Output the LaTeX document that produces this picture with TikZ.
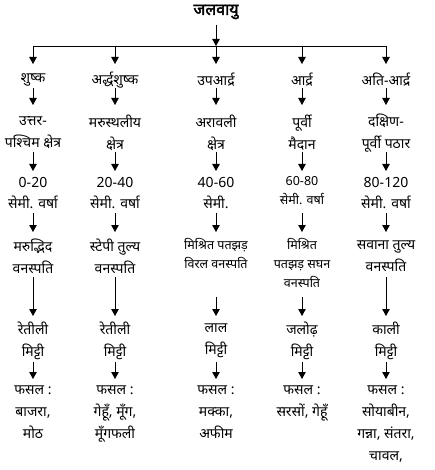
\documentclass[tikz,border=0pt]{standalone}
\usepackage{fontspec}
\setmainfont{Noto Sans}[Script=Devanagari]
\newfontfamily\titlefont[Script=Devanagari,FakeBold=2.5]{Noto Sans}
\usetikzlibrary{arrows.meta}
\begin{document}
\begin{tikzpicture}[x=1pt,y=-1pt,
  txt/.style={align=center,inner sep=1pt,font=\fontsize{14}{21.7}\selectfont},
  sml/.style={align=center,inner sep=1pt,font=\fontsize{12.5}{19}\selectfont},
  arr/.style={-{Triangle[length=7pt,width=7.5pt]},line width=0.9pt},
  ln/.style={line width=0.9pt}]
\useasboundingbox (0,0) rectangle (435,470);
\node[inner sep=1pt,font=\fontsize{16}{20}\titlefont] (top) at (216,12) {जलवायु};
\coordinate (bar) at (216,46);
\coordinate (b1) at (33,46);
\coordinate (b2) at (115,46);
\coordinate (b5) at (386,46);
\coordinate (b4) at (302,46);
% arrow levels
\coordinate (ytop) at (0,25);
\coordinate (y1e) at (0,64);
\coordinate (y2s) at (0,88);
\coordinate (y2e) at (0,105);
\coordinate (y3s) at (0,152);
\coordinate (y3e) at (0,171);
\coordinate (y4s) at (0,213);
\coordinate (y4e) at (0,232);
\coordinate (y5s) at (0,277);
\coordinate (y5t) at (0,297);
\coordinate (y5e) at (0,316);
\coordinate (y6s) at (0,362);
\coordinate (y6e) at (0,379);
% level 1
\node[txt] (a1) at (33,80) {शुष्क};
\node[txt] (a2) at (115,80) {अर्द्धशुष्क};
\node[txt] (a3) at (216,80) {उपआर्द्र};
\node[txt] (a4) at (302,80) {आर्द्र};
\node[txt] (a5) at (386,80) {अति-आर्द्र};
% level 2
\node[txt] (c1) at (33,133) {उत्तर-\\पश्चिम क्षेत्र};
\node[txt] (c2) at (115,133) {मरुस्थलीय\\क्षेत्र};
\node[txt] (c3) at (216,133) {अरावली\\क्षेत्र};
\node[txt] (c4) at (302,133) {पूर्वी\\मैदान};
\node[txt] (c5) at (386,133) {दक्षिण-\\पूर्वी पठार};
% level 3
\node[txt] (d1) at (33,193) {0-20\\सेमी. वर्षा};
\node[txt] (d2) at (115,193) {20-40\\सेमी. वर्षा};
\node[txt] (d3) at (216,193) {40-60\\सेमी.};
\node[sml] (d4) at (302,191) {60-80\\सेमी. वर्षा};
\node[txt] (d5) at (386,193) {80-120\\सेमी. वर्षा};
% level 4
\node[txt] (e1) at (33,256) {मरुद्भिद\\वनस्पति};
\node[txt] (e2) at (115,256) {स्टेपी तुल्य\\वनस्पति};
\node[sml] (e3) at (216,253) {मिश्रित पतझड़\\विरल वनस्पति};
\node[sml] (e4) at (302,263) {मिश्रित\\पतझड़ सघन\\वनस्पति};
\node[txt] (e5) at (386,256) {सवाना तुल्य\\वनस्पति};
% level 5
\node[txt] (f1) at (33,341) {रेतीली\\मिट्टी};
\node[txt] (f2) at (115,341) {रेतीली\\मिट्टी};
\node[txt] (f3) at (216,341) {लाल\\मिट्टी};
\node[txt] (f4) at (302,341) {जलोढ़\\मिट्टी};
\node[txt] (f5) at (386,341) {काली\\मिट्टी};
% level 6
\node[txt,anchor=north] (g1) at (33,385) {फसल :\\बाजरा,\\मोठ};
\node[txt,anchor=north] (g2) at (115,385) {फसल :\\गेहूँ, मूँग,\\मूँगफली};
\node[txt,anchor=north] (g3) at (216,385) {फसल :\\मक्का,\\अफीम};
\node[txt,anchor=north] (g4) at (302,385) {फसल :\\सरसों, गेहूँ};
\node[txt,anchor=north] (g5) at (386,385) {फसल :\\सोयाबीन,\\गन्ना, संतरा,\\चावल,};
% connectors
\draw[arr] (top |- ytop) -- (bar);
\draw[ln] (b1) -- (b5);
\draw[arr] (b1) -- (a1 |- y1e);
\draw[arr] (b2) -- (a2 |- y1e);
\draw[arr] (bar) -- (a3 |- y1e);
\draw[arr] (b4) -- (a4 |- y1e);
\draw[arr] (b5) -- (a5 |- y1e);
\foreach \i in {1,...,5}{
  \draw[arr] (a\i |- y2s) -- (c\i |- y2e);
  \draw[arr] (c\i |- y3s) -- (d\i |- y3e);
  \draw[arr] (d\i |- y4s) -- (e\i |- y4e);
  \draw[arr] (f\i |- y6s) -- (g\i |- y6e);
}
\foreach \i in {1,2,5}{\draw[arr] (e\i |- y5s) -- (f\i |- y5e);}
\foreach \i in {3,4}{\draw[arr] (e\i |- y5t) -- (f\i |- y5e);}
\end{tikzpicture}
\end{document}
